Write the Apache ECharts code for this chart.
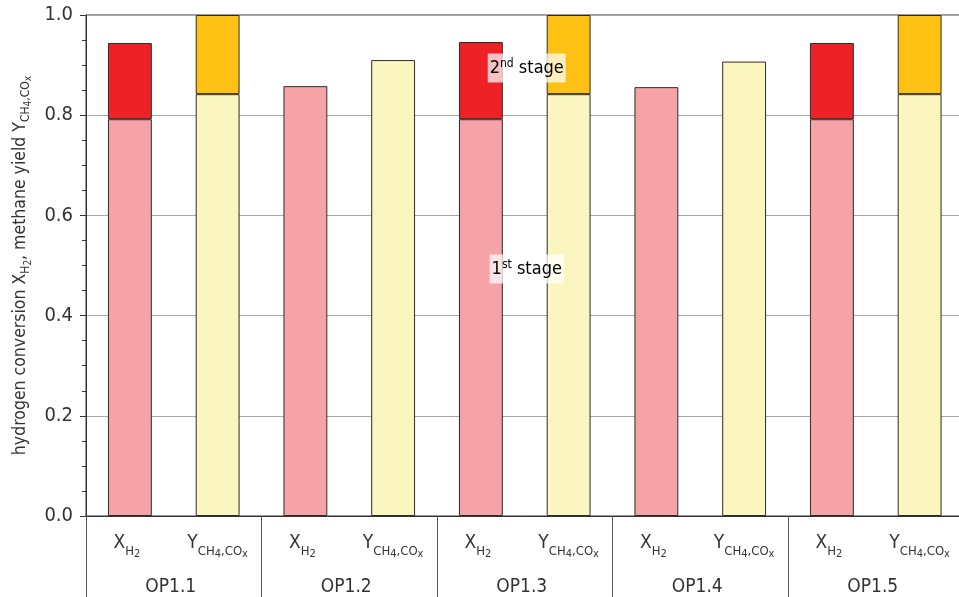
<!DOCTYPE html>
<html>
<head>
<meta charset="utf-8">
<script src="https://cdn.jsdelivr.net/npm/echarts@6/dist/echarts.min.js"></script>
<style>
  html, body { margin: 0; padding: 0; background: #fff; }
  #chart { width: 959px; height: 597px; }
</style>
</head>
<body>
<div id="chart"></div>
<script>
// Operating points and the two quantities plotted for each one
const groups = ['OP1.1', 'OP1.2', 'OP1.3', 'OP1.4', 'OP1.5'];
const quantities = ['X', 'Y'];   // X: hydrogen conversion, Y: methane yield

// Hydrogen conversion: after stage 1, and the extra gained in stage 2
const xH2Stage1 = [0.792, 0.858, 0.792, 0.856, 0.792];
const xH2Stage2 = [0.152, null, 0.154, null, 0.152];

// Methane yield: after stage 1, and the extra gained in stage 2
const yCH4Stage1 = [0.842, 0.910, 0.842, 0.907, 0.842];
const yCH4Stage2 = [0.158, null, 0.158, null, 0.158];

// Value axis ticks
const yMin = 0, yMax = 1, yStep = 0.2;

const FONT = "'DejaVu Sans Condensed', 'Liberation Sans Narrow', sans-serif";
const TXT = '#333';

// Ten bar slots: X and Y for each operating point
const slots = [];
groups.forEach(g => quantities.forEach(q => slots.push(g + '|' + q)));

function slotData(values, kind) {
  return slots.map((s, i) => {
    const g = Math.floor(i / 2);
    const v = values[g];
    return (i % 2 === kind && v !== null) ? v : '-';
  });
}

const subRich = {
  m:  { fontFamily: FONT, fontSize: 19, color: TXT },
  s:  { fontFamily: FONT, fontSize: 13, color: TXT, padding: [16, 0, 0, 0] },
  ss: { fontFamily: FONT, fontSize: 11, color: TXT, padding: [22, 0, 0, 0] }
};

const chart = echarts.init(document.getElementById('chart'));

const barBorder = { borderColor: '#2b2b2b', borderWidth: 1 };

chart.setOption({
  animation: false,
  backgroundColor: '#fff',
  textStyle: { fontFamily: FONT },
  grid: {
    left: 86, right: -4.5, top: 15, bottom: 81,
    containLabel: false, outerBoundsMode: 'none',
    show: true, borderColor: '#333', borderWidth: 1, backgroundColor: 'transparent'
  },
  xAxis: [
    {
      type: 'category',
      data: slots,
      position: 'bottom',
      axisLine: { show: true, lineStyle: { color: '#333', width: 1 } },
      axisTick: { show: false },
      axisLabel: {
        margin: 11,
        interval: 0,
        formatter: (v) => v.endsWith('|X')
          ? '{m|X}{s|H}{ss|2}{p|}'
          : '{m|Y}{s|CH}{ss|4}{s|,CO}{ss|x}',
        rich: Object.assign({ p: { width: 6 } }, subRich)
      }
    },
    {
      type: 'category',
      data: groups,
      position: 'bottom',
      axisLine: { show: false },
      axisTick: { show: true, length: 81, lineStyle: { color: '#555', width: 1 } },
      axisLabel: {
        margin: 62, interval: 0, fontFamily: FONT, fontSize: 19, color: TXT,
        padding: [0, 6, 0, 0]
      },
      splitLine: { show: false }
    }
  ],
  yAxis: {
    type: 'value',
    min: yMin, max: yMax, interval: yStep,
    axisLine: { show: true, lineStyle: { color: '#333', width: 1 } },
    axisTick: { show: true, length: 6, lineStyle: { color: '#333' } },
    minorTick: { show: true, splitNumber: 4, length: 4, lineStyle: { color: '#333' } },
    splitLine: { show: true, lineStyle: { color: '#a8a8a8', width: 1 } },
    axisLabel: {
      margin: 13, fontFamily: FONT, fontSize: 20, color: TXT,
      formatter: (v) => v.toFixed(1)
    },
    name: '{m|hydrogen conversion X}{s|H}{ss|2}{m|, methane yield Y}{s|CH}{ss|4}{s|,CO}{ss|x}',
    nameLocation: 'middle',
    nameRotate: 90,
    nameGap: 52,
    nameTextStyle: {
      rich: {
        m:  { fontFamily: FONT, fontSize: 17.5, color: TXT },
        s:  { fontFamily: FONT, fontSize: 12, color: TXT, padding: [11, 0, 0, 0] },
        ss: { fontFamily: FONT, fontSize: 10, color: TXT, padding: [17, 0, 0, 0] }
      }
    }
  },
  series: [
    {
      name: 'XH2 stage 1', type: 'bar', stack: 'total', barWidth: '50%',
      data: slotData(xH2Stage1, 0),
      itemStyle: Object.assign({ color: '#f5a3a6' }, barBorder)
    },
    {
      name: 'XH2 stage 2', type: 'bar', stack: 'total',
      data: slotData(xH2Stage2, 0),
      itemStyle: Object.assign({ color: '#ed2126' }, barBorder)
    },
    {
      name: 'YCH4 stage 1', type: 'bar', stack: 'total',
      data: slotData(yCH4Stage1, 1),
      itemStyle: Object.assign({ color: '#fbf6c0' }, barBorder)
    },
    {
      name: 'YCH4 stage 2', type: 'bar', stack: 'total',
      data: slotData(yCH4Stage2, 1),
      itemStyle: Object.assign({ color: '#fdc113' }, barBorder)
    }
  ]
});

// Stage annotations, placed between the two bars of OP1.3
const xa = chart.convertToPixel({ xAxisIndex: 0 }, 'OP1.3|X');
const xb = chart.convertToPixel({ xAxisIndex: 0 }, 'OP1.3|Y');
const cx = (xa + xb) / 2 + 2;
const stageRich = {
  n:   { fontFamily: FONT, fontSize: 18, color: TXT },
  sup: { fontFamily: FONT, fontSize: 12, color: TXT, padding: [0, 0, 10, 0] }
};
function stageLabel(text, value) {
  return {
    type: 'text',
    x: cx, y: chart.convertToPixel({ yAxisIndex: 0 }, value),
    z: 100,
    style: {
      text: text, rich: stageRich,
      align: 'center', verticalAlign: 'middle',
      backgroundColor: 'rgba(255,255,255,0.72)',
      padding: [4, 2, 3, 2]
    }
  };
}
chart.setOption({
  graphic: [
    stageLabel('{n|2}{sup|nd}{n| stage}', 0.894),
    stageLabel('{n|1}{sup|st}{n| stage}', 0.493)
  ]
});
</script>
</body>
</html>
